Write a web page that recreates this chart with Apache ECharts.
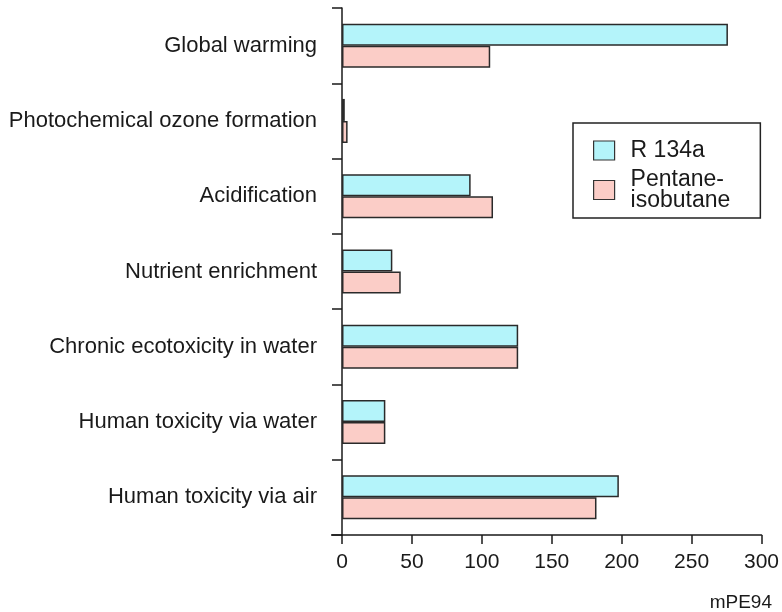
<!DOCTYPE html>
<html>
<head>
<meta charset="utf-8">
<script src="https://cdn.jsdelivr.net/npm/echarts@6/dist/echarts.min.js"></script>
<style>
  html, body { margin: 0; padding: 0; background: #ffffff; }
  #chart { width: 782px; height: 612px; }
</style>
</head>
<body>
<div id="chart"></div>
<script>
const categories = [
  'Global warming',
  'Photochemical ozone formation',
  'Acidification',
  'Nutrient enrichment',
  'Chronic ecotoxicity in water',
  'Human toxicity via water',
  'Human toxicity via air'
];
const r134a = [276, 2, 92, 36, 126, 31, 198];
const pentaneIsobutane = [106, 4, 108, 42, 126, 31, 182];
const xTicks = [0, 50, 100, 150, 200, 250, 300];
const unitLabel = 'mPE94';

const chart = echarts.init(document.getElementById('chart'), null, { renderer: 'canvas' });
const FONT = '"Liberation Sans", Arial, sans-serif';
const axisColor = '#1a1a1a';

chart.setOption({
  backgroundColor: '#ffffff',
  animation: false,
  grid: { left: 342, right: 20, top: 8, bottom: 77, containLabel: false },
  legend: {
    orient: 'vertical',
    left: 573,
    top: 123,
    padding: [16, 30, 6, 20],
    itemGap: 6,
    itemWidth: 21,
    itemHeight: 19,
    icon: 'rect',
    borderColor: '#222',
    borderWidth: 1.5,
    data: ['R 134a', 'Pentane-\nisobutane'],
    textStyle: { fontFamily: FONT, fontSize: 23, color: '#1a1a1a', lineHeight: 21, padding: [0, 0, 0, 11] },
    itemStyle: { borderColor: '#333', borderWidth: 1.2 }
  },
  xAxis: {
    type: 'value',
    min: xTicks[0],
    max: xTicks[xTicks.length - 1],
    interval: 50,
    splitLine: { show: false },
    axisLine: { show: true, lineStyle: { color: axisColor, width: 1.5 } },
    axisTick: { show: true, length: 9, lineStyle: { color: axisColor, width: 1.5 } },
    axisLabel: { margin: 17, fontFamily: FONT, fontSize: 21, color: '#1a1a1a' }
  },
  yAxis: {
    type: 'category',
    inverse: true,
    data: categories,
    axisLine: { show: true, lineStyle: { color: axisColor, width: 1.5 } },
    axisTick: { show: true, length: 10, alignWithLabel: false, lineStyle: { color: axisColor, width: 1.5 } },
    axisLabel: { margin: 25, fontFamily: FONT, fontSize: 22, color: '#1a1a1a' }
  },
  series: [
    {
      name: 'R 134a',
      type: 'bar',
      data: r134a,
      barWidth: 22,
      barGap: '0%',
      itemStyle: { color: '#b4f4fa', borderColor: '#2a2a2a', borderWidth: 1.5 }
    },
    {
      name: 'Pentane-\nisobutane',
      type: 'bar',
      data: pentaneIsobutane,
      barWidth: 22,
      barGap: '0%',
      itemStyle: { color: '#fbcdc7', borderColor: '#2a2a2a', borderWidth: 1.5 }
    }
  ],
  graphic: [
    {
      type: 'text',
      right: 10,
      top: 593,
      style: { text: unitLabel, font: '19px ' + FONT, fill: '#1a1a1a' }
    },
    {
      type: 'line',
      shape: { x1: 331, y1: 535, x2: 342, y2: 535 },
      style: { stroke: axisColor, lineWidth: 1.5 }
    }
  ]
});
</script>
</body>
</html>
